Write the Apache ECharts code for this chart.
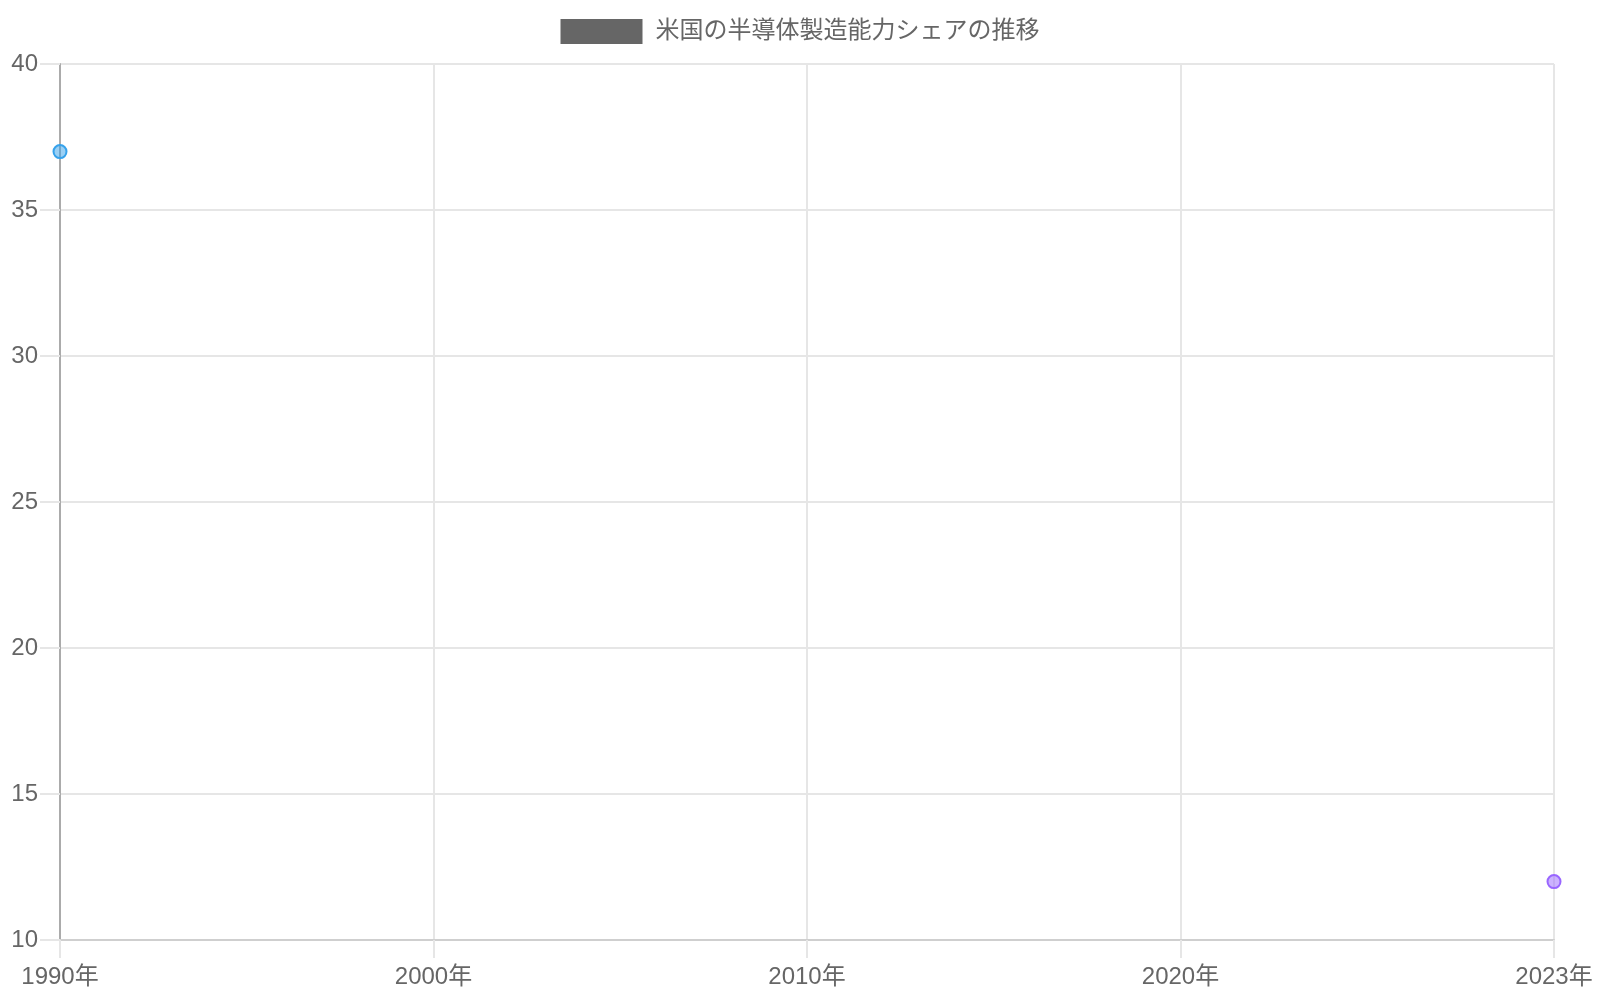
<!DOCTYPE html>
<html>
<head>
<meta charset="utf-8">
<script src="https://cdn.jsdelivr.net/npm/echarts@6/dist/echarts.min.js"></script>
<style>
html,body{margin:0;padding:0;background:#fff;}
#chart{width:1600px;height:1000px;}
</style>
</head>
<body>
<div id="chart"></div>
<script>
var seriesName = '米国の半導体製造能力シェアの推移';
var categories = ['1990年', '2000年', '2010年', '2020年', '2023年'];
var shareValues = [37, null, null, null, 12];
var yTicks = [10, 15, 20, 25, 30, 35, 40];

var pointFill = ['rgba(54,162,235,0.5)', 'rgba(255,206,86,0.5)', 'rgba(75,192,192,0.5)', 'rgba(255,99,132,0.5)', 'rgba(153,102,255,0.5)'];
var pointBorder = ['rgb(54,162,235)', 'rgb(255,206,86)', 'rgb(75,192,192)', 'rgb(255,99,132)', 'rgb(153,102,255)'];

var FONT = "'Liberation Sans', 'Noto Sans CJK JP', sans-serif";
var chart = echarts.init(document.getElementById('chart'));

var seriesData = shareValues.map(function (v, i) {
  return {
    value: v,
    itemStyle: { color: pointFill[i], borderColor: pointBorder[i], borderWidth: 2 }
  };
});

chart.setOption({
  animation: false,
  backgroundColor: '#fff',
  textStyle: { fontFamily: FONT },
  legend: {
    top: 14,
    left: 'center',
    icon: 'rect',
    itemWidth: 82,
    itemHeight: 25,
    data: [{ name: seriesName, itemStyle: { color: '#666666', borderWidth: 0 } }],
    textStyle: { fontSize: 24, color: '#666', fontFamily: FONT, padding: [0, 0, 0, 8] }
  },
  grid: { left: 60, right: 46, top: 64, bottom: 60, containLabel: false },
  xAxis: {
    type: 'category',
    data: categories,
    boundaryGap: false,
    axisLine: { show: true, lineStyle: { color: '#cfcfcf', width: 2 } },
    axisTick: { show: true, length: 18, lineStyle: { color: '#e6e6e6', width: 2 } },
    axisLabel: { interval: 0, color: '#666', fontSize: 24, margin: 25, fontFamily: FONT },
    splitLine: { show: true, interval: 0, lineStyle: { color: ['#ababab', '#e6e6e6', '#e6e6e6', '#e6e6e6', '#e6e6e6'], width: 2 } }
  },
  yAxis: {
    type: 'value',
    min: yTicks[0],
    max: yTicks[yTicks.length - 1],
    interval: yTicks[1] - yTicks[0],
    axisLine: { show: true, lineStyle: { color: '#ababab', width: 2 } },
    axisTick: { show: true, length: 20, lineStyle: { color: '#e6e6e6', width: 2 } },
    axisLabel: { color: '#666', fontSize: 24, margin: 22, fontFamily: FONT },
    splitLine: { show: true, lineStyle: { color: '#e6e6e6', width: 2 } }
  },
  series: [{
    name: seriesName,
    type: 'line',
    data: seriesData,
    connectNulls: false,
    symbol: 'circle',
    symbolSize: 13,
    showSymbol: true,
    showAllSymbol: true,
    lineStyle: { width: 2, color: 'rgba(102,102,102,0.5)' },
    itemStyle: { color: '#666' }
  }]
});
</script>
</body>
</html>
